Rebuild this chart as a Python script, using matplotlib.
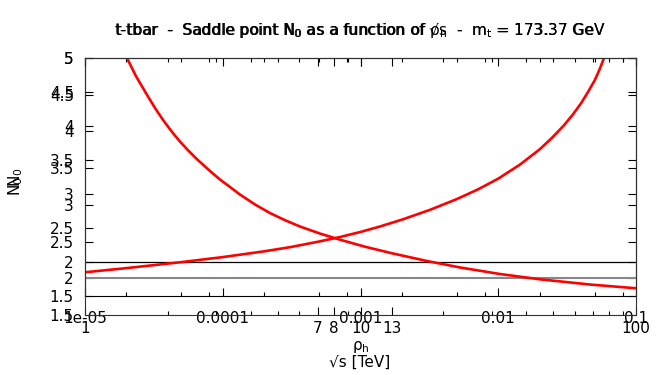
import numpy as np
import matplotlib
matplotlib.use('agg')
import matplotlib.pyplot as plt
from matplotlib.ticker import LogLocator, NullFormatter

# N0 vs rho_h (black frame)
rho_h = [1e-5, 2e-5, 5e-5, 1e-4, 2e-4, 3.08e-4, 5e-4, 7.1e-4, 1e-3, 1.385e-3, 2e-3, 3.195e-3, 5e-3,
         7.13e-3, 1e-2, 1.439e-2, 2e-2, 2.455e-2, 3e-2, 3.49e-2, 4e-2, 4.482e-2, 5e-2, 5.43e-2, 5.86e-2]
n0_rho = [1.849, 1.910, 1.998, 2.072, 2.157, 2.218, 2.301, 2.367, 2.442, 2.522, 2.623, 2.767, 2.925,
          3.068, 3.226, 3.433, 3.657, 3.826, 4.010, 4.172, 4.337, 4.500, 4.667, 4.827, 5.0]

# N0 vs sqrt(s) in TeV (second frame)
sqrt_s = [1.42, 1.53, 1.68, 1.80, 1.92, 2.07, 2.21, 2.37, 2.54, 2.80, 3.09, 3.36, 3.65, 4.14, 4.69,
          5.32, 6.03, 7.13, 8.42, 10.4, 13.1, 17.4, 23.0, 32.1, 44.8, 68.1, 100]
n0_s = [5.0, 4.755, 4.496, 4.312, 4.156, 3.992, 3.863, 3.740, 3.627, 3.482, 3.345, 3.243, 3.141, 3.005,
        2.889, 2.791, 2.705, 2.609, 2.526, 2.429, 2.338, 2.236, 2.147, 2.058, 1.986, 1.915, 1.864]

rho_ticks = [1e-5, 1e-4, 1e-3, 1e-2, 1e-1]
rho_labels = ['1e-05', '0.0001', '0.001', '0.01', '0.1']
s_ticks = [1, 7, 8, 10, 13, 100]
s_labels = ['1', '7', '8', '10', '13', '100']
y_ticks = [1.5, 2, 2.5, 3, 3.5, 4, 4.5, 5]
y_labels = ['1.5', '2', '2.5', '3', '3.5', '4', '4.5', '5']

W, H = 664, 375
fig = plt.figure(figsize=(W / 100, H / 100), dpi=100)

left = 85 / W
width = (636 - 85) / W
ax1 = fig.add_axes([left, 1 - 296 / H, width, (296 - 58) / H])
ax2 = fig.add_axes([left, 1 - 315 / H, width, (315 - 58) / H])
ax2.patch.set_alpha(0)

fs = 11

# first frame: rho_h
ax1.set_xscale('log')
ax1.set_xlim(1e-5, 0.1)
ax1.set_ylim(1.5, 5)
ax1.axhline(2, color='black', lw=0.9)
ax1.plot(rho_h, n0_rho, color='red', lw=1.9)
ax1.set_xticks(rho_ticks, rho_labels)
ax1.xaxis.set_minor_locator(LogLocator(base=10, subs=[2, 5, 8]))
ax1.xaxis.set_minor_formatter(NullFormatter())
ax1.set_yticks(y_ticks, y_labels)
ax1.tick_params(which='both', direction='in', top=True, right=True, labelsize=fs)
ax1.tick_params(which='major', length=5.5, width=0.8)
ax1.tick_params(which='minor', length=2.8, width=0.8)
ax1.tick_params(axis='x', pad=11)
ax1.tick_params(axis='y', pad=8)

# second frame: sqrt(s)
ax2.set_xscale('log')
ax2.set_xlim(1, 100)
ax2.set_ylim(1.5, 5)
ax2.axhline(2, color='#888888', lw=1.5)
ax2.plot(sqrt_s, n0_s, color='red', lw=1.9)
ax2.set_xticks(s_ticks, s_labels)
ax2.xaxis.set_minor_locator(LogLocator(base=10, subs=np.arange(2, 10)))
ax2.xaxis.set_minor_formatter(NullFormatter())
ax2.set_yticks(y_ticks, y_labels)
ax2.tick_params(which='both', direction='in', top=True, right=True, labelsize=fs)
ax2.tick_params(which='major', length=5.5, width=0.8)
ax2.tick_params(which='minor', length=2.8, width=0.8)
ax2.tick_params(axis='x', pad=4.5)
ax2.tick_params(axis='y', pad=8)
for sp in ax2.spines.values():
    sp.set_color('#303030')

# axis titles
fig.text(361 / W, 1 - 347 / H, 'ρ$_\\mathrm{h}$', ha='center', va='center', fontsize=fs)
fig.text(360 / W, 1 - 362 / H, '√s [TeV]', ha='center', va='center', fontsize=fs)
fig.text(16 / W, 1 - 177 / H, 'N$_0$', ha='center', va='center', rotation=90, fontsize=fs)
fig.text(16 / W, 1 - 186 / H, 'N$_0$', ha='center', va='center', rotation=90, fontsize=fs)

fig.text(360 / W, 1 - 31 / H, 't-tbar  -  Saddle point N$_0$ as a function of ρ$_\\mathrm{h}$  -  m$_\\mathrm{t}$ = 173.37 GeV',
         ha='center', va='center', fontsize=fs)
fig.text(360 / W, 1 - 31 / H, 't-tbar  -  Saddle point N$_0$ as a function of √s  -  m$_\\mathrm{t}$ = 173.37 GeV',
         ha='center', va='center', fontsize=fs)

fig.savefig('out.png', dpi=100)
